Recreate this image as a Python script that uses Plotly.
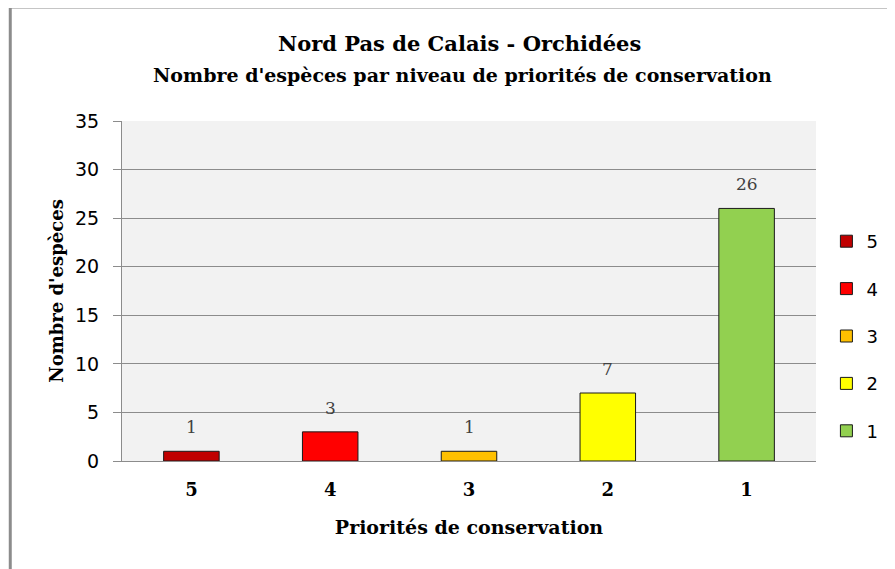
import plotly.graph_objects as go

categories = ["5", "4", "3", "2", "1"]
values = [1, 3, 1, 7, 26]
colors = ["#C00000", "#FF0000", "#FFC000", "#FFFF00", "#92D050"]

serif = "DejaVu Serif"
sans = "DejaVu Sans"

fig = go.Figure()

for i, (cat, val, col) in enumerate(zip(categories, values, colors)):
    fig.add_trace(go.Bar(
        x=[cat], y=[val], name=cat, legendgroup=cat,
        marker=dict(color=col, line=dict(color="#1a1a1a", width=1)),
        width=0.4,
    ))
    # data label above each bar (category index as x position)
    fig.add_annotation(
        x=i, y=val, text=str(val), showarrow=False,
        yshift=24, font=dict(family=serif, size=17, color="#404040"),
    )

# titles
fig.add_annotation(
    x=0.486, y=1.0, xref="paper", yref="paper", yshift=92,
    text="Nord Pas de Calais - Orchidées", showarrow=False,
    font=dict(family=serif, size=21, color="#000000", weight="bold"),
)
fig.add_annotation(
    x=0.49, y=1.0, xref="paper", yref="paper", yshift=59,
    text="Nombre d'espèces par niveau de priorités de conservation",
    showarrow=False, font=dict(family=serif, size=19, color="#000000", weight="bold"),
)

# chart frame (top and left edges)
frame = dict(color="#8c8c8c", width=3)
fig.add_shape(type="line", xref="paper", yref="paper",
              x0=-0.161, x1=1.12, y0=1.335, y1=1.335, line=frame)
fig.add_shape(type="line", xref="paper", yref="paper",
              x0=-0.161, x1=-0.161, y0=1.335, y1=-0.33, line=frame)

fig.update_layout(
    width=887, height=561,
    margin=dict(l=114, r=77, t=113, b=108),
    paper_bgcolor="white",
    plot_bgcolor="#f2f2f2",
    showlegend=True,
    legend=dict(
        x=1.015, y=0.7, xanchor="left", yanchor="top",
        tracegroupgap=21, traceorder="grouped",
        font=dict(family=sans, size=18, color="#000000"),
        bgcolor="rgba(0,0,0,0)",
    ),
    xaxis=dict(
        type="category",
        showline=True, linecolor="#8c8c8c", linewidth=1,
        ticks="", showgrid=False, ticklabelstandoff=12,
        tickfont=dict(family=serif, size=18, color="#000000", weight="bold"),
        title=dict(text="Priorités de conservation",
                   font=dict(family=serif, size=19, color="#000000", weight="bold"),
                   standoff=22),
    ),
    yaxis=dict(
        range=[0, 35], dtick=5,
        showline=True, linecolor="#8c8c8c", linewidth=1,
        ticks="outside", ticklen=8, tickcolor="#8c8c8c",
        ticklabelstandoff=10,
        showgrid=True, gridcolor="#8c8c8c", gridwidth=1,
        zeroline=False,
        tickfont=dict(family=sans, size=19, color="#000000"),
        title=dict(text="Nombre d'espèces",
                   font=dict(family=serif, size=18, color="#000000", weight="bold"),
                   standoff=6),
    ),
)

fig.write_html("out.html")
